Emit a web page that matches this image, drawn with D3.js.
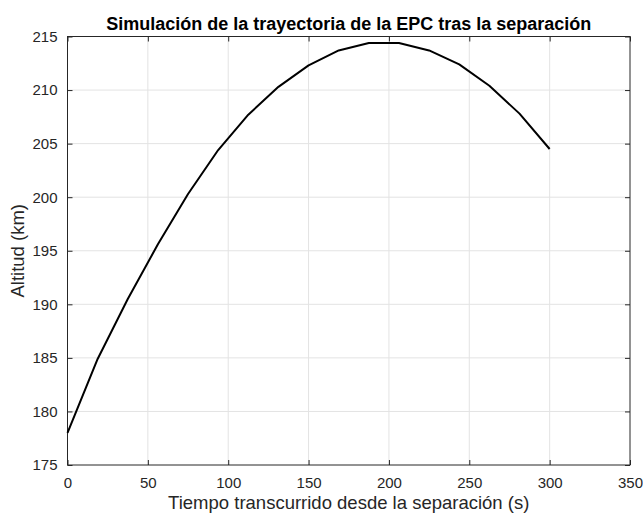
<!DOCTYPE html>
<html>
<head>
    <meta charset="utf-8">
    <script src="https://cdn.jsdelivr.net/npm/d3@7"></script>
    <style>
        body { margin: 0; background: #fff; }
        text { font-family: Arial, "Liberation Sans", Helvetica, sans-serif; }
    </style>
</head>
<body>
    <svg width="643" height="516" id="mainsvg"></svg>
    <script>
        // values
        const tiempo = [0, 18.75, 37.5, 56.25, 75, 93.75, 112.5, 131.25, 150, 168.75,
            187.5, 206.25, 225, 243.75, 262.5, 281.25, 300];
        const altitud = [178.0, 184.9, 190.5, 195.6, 200.3, 204.4, 207.7, 210.3, 212.3, 213.7,
            214.4, 214.4, 213.7, 212.4, 210.4, 207.8, 204.5];
        const xTicks = [0, 50, 100, 150, 200, 250, 300, 350];
        const yTicks = [175, 180, 185, 190, 195, 200, 205, 210, 215];

        const svg = d3.select('svg');
        const margin = { top: 36.5, right: 13, bottom: 51, left: 67.5 };
        const width = +svg.attr('width');
        const height = +svg.attr('height');
        const innerWidth = width - margin.left - margin.right;
        const innerHeight = height - margin.top - margin.bottom;
        const axisColor = '#262626';

        const g = svg.append('g')
            .attr('transform', `translate(${margin.left}, ${margin.top})`);

        const xScale = d3.scaleLinear().domain([0, 350]).range([0, innerWidth]);
        const yScale = d3.scaleLinear().domain([175, 215]).range([innerHeight, 0]);

        // grid
        g.append('g').selectAll('line').data(xTicks.slice(1, -1)).join('line')
            .attr('x1', d => xScale(d)).attr('x2', d => xScale(d))
            .attr('y1', 0).attr('y2', innerHeight)
            .attr('stroke', '#e3e3e3').attr('stroke-width', 1);
        g.append('g').selectAll('line').data(yTicks.slice(1, -1)).join('line')
            .attr('y1', d => yScale(d)).attr('y2', d => yScale(d))
            .attr('x1', 0).attr('x2', innerWidth)
            .attr('stroke', '#e3e3e3').attr('stroke-width', 1);

        // axes (ticks pointing inward, MATLAB style)
        const styleAxis = sel => {
            sel.select('.domain').remove();
            sel.selectAll('.tick line').attr('stroke', axisColor);
            sel.selectAll('.tick text').attr('fill', axisColor)
                .style('font-size', '15px')
                .style('font-family', 'Arial, "Liberation Sans", sans-serif');
        };
        const noLabels = sel => sel.selectAll('.tick text').remove();
        g.append('g').attr('transform', `translate(0, ${innerHeight})`)
            .call(d3.axisBottom(xScale).tickValues(xTicks).tickSize(-5).tickPadding(12))
            .call(styleAxis);
        g.append('g')
            .call(d3.axisTop(xScale).tickValues(xTicks).tickSize(-5))
            .call(styleAxis).call(noLabels);
        g.append('g')
            .call(d3.axisLeft(yScale).tickValues(yTicks).tickSize(-5).tickPadding(10))
            .call(styleAxis);
        g.append('g').attr('transform', `translate(${innerWidth}, 0)`)
            .call(d3.axisRight(yScale).tickValues(yTicks).tickSize(-5))
            .call(styleAxis).call(noLabels);

        // box
        g.append('rect')
            .attr('width', innerWidth).attr('height', innerHeight)
            .attr('fill', 'none').attr('stroke', axisColor).attr('stroke-width', 1);

        // trajectory
        const line = d3.line().x((d, i) => xScale(tiempo[i])).y(d => yScale(d));
        g.append('path').datum(altitud)
            .attr('d', line)
            .attr('fill', 'none')
            .attr('stroke', '#000')
            .attr('stroke-width', 2)
            .attr('stroke-linejoin', 'round');

        // title and labels
        svg.append('text')
            .attr('x', margin.left + innerWidth / 2).attr('y', 30)
            .attr('text-anchor', 'middle')
            .style('font-size', '18px').style('font-weight', 'bold')
            .attr('fill', '#000')
            .text('Simulación de la trayectoria de la EPC tras la separación');
        svg.append('text')
            .attr('x', margin.left + innerWidth / 2).attr('y', 509)
            .attr('text-anchor', 'middle')
            .style('font-size', '18.5px')
            .attr('fill', axisColor)
            .text('Tiempo transcurrido desde la separación (s)');
        svg.append('text')
            .attr('transform', `translate(24, ${margin.top + innerHeight / 2}) rotate(-90)`)
            .attr('text-anchor', 'middle')
            .style('font-size', '18.5px')
            .attr('fill', axisColor)
            .text('Altitud (km)');
    </script>
</body>
</html>
